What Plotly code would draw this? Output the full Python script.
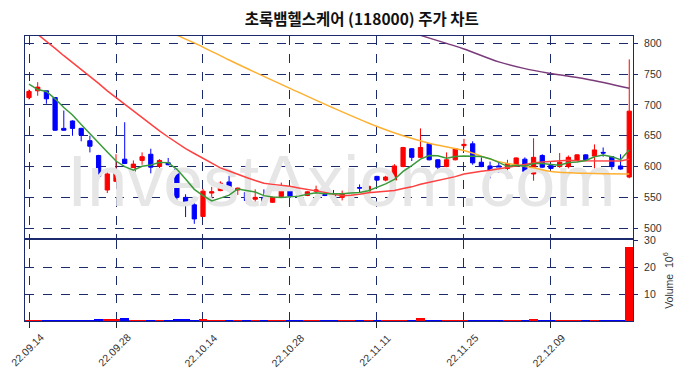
import plotly.graph_objects as go

dates = ["22.09.14","22.09.15","22.09.16","22.09.19","22.09.20","22.09.21","22.09.22","22.09.23","22.09.26","22.09.27",
         "22.09.28","22.09.29","22.09.30","22.10.04","22.10.05","22.10.06","22.10.07","22.10.11","22.10.12","22.10.13",
         "22.10.14","22.10.17","22.10.18","22.10.19","22.10.20","22.10.21","22.10.24","22.10.25","22.10.26","22.10.27",
         "22.10.28","22.10.31","22.11.01","22.11.02","22.11.03","22.11.04","22.11.07","22.11.08","22.11.09","22.11.10",
         "22.11.11","22.11.14","22.11.15","22.11.16","22.11.17","22.11.18","22.11.21","22.11.22","22.11.23","22.11.24",
         "22.11.25","22.11.28","22.11.29","22.11.30","22.12.01","22.12.02","22.12.05","22.12.06","22.12.07","22.12.08",
         "22.12.09","22.12.12","22.12.13","22.12.14","22.12.15","22.12.16","22.12.19","22.12.20","22.12.21","22.12.22"]

opens  = [712,723,723,712,662,674,662,642,618,562, 576,612,592,610,620,600,606,596,550,538,
          519,557,561,575,562,558,547,550,542,551, 562,555,553,560,558,555,550,556,566,560,
          584,578,578,600,629,615,637,611,600,611, 634,637,607,601,601,597,601,612,588,618,
          602,600,600,610,619,617,623,616,601,583]
highs  = [725,737,723,713,691,675,663,650,619,596, 620,672,610,623,629,612,614,596,555,548,
          564,567,576,585,566,559,563,563,551,574, 563,563,560,569,559,562,561,573,571,571,
          585,585,604,632,630,662,638,612,623,630, 645,641,615,608,607,611,615,615,646,620,
          603,622,618,620,620,636,631,617,620,774]
lows   = [709,715,702,658,658,650,641,623,580,557, 575,604,585,603,589,594,602,546,518,507,
          518,542,560,560,554,540,540,543,541,550, 549,550,552,556,552,541,545,555,558,558,
          577,576,577,599,609,614,610,590,599,610, 630,603,599,581,590,593,600,591,577,598,
          596,598,597,609,610,597,616,595,595,581]
closes = [722,729,710,659,659,662,651,633,584,588, 589,605,604,616,599,610,603,550,537,515,
          560,559,573,561,565,545,550,543,550,561, 552,554,559,562,553,550,556,565,565,568,
          578,583,601,631,615,631,611,599,611,629, 636,606,600,593,598,605,614,592,615,599,
          597,607,615,619,611,627,622,600,596,690]
volumes = [0.3,0.3,0.2,0.3,0.3,0.2,0.2,0.3,0.6,0.4, 0.5,1.0,0.3,0.3,0.3,0.3,0.3,0.5,0.5,0.3,
           0.6,0.3,0.3,0.2,0.3,0.3,0.3,0.2,0.3,0.3, 0.2,0.2,0.3,0.3,0.2,0.3,0.3,0.3,0.2,0.3,
           0.3,0.3,0.3,0.3,0.3,1.0,0.3,0.3,0.3,0.3, 0.3,0.2,0.2,0.2,0.2,0.3,0.3,0.3,0.6,0.3,
           0.3,0.3,0.3,0.3,0.2,0.3,0.2,0.3,0.2,27.5]

# moving averages: heads (history before the window)
ma5_head = [734, 725, 722, 710]
ma20_head = [826, 815, 803, 792, 780, 769, 758, 746, 735, 723, 712, 702, 691, 680, 669, 658, 648, 638, 629]
ma60_idx = [16, 18, 20, 23, 26, 30, 35, 40, 43, 46, 50, 54, 58, 60, 64, 69]
ma60_val = [820, 807, 794, 773, 753, 727, 695, 665, 650, 638, 626, 608, 598, 592, 589, 588]
ma120_idx = [43, 45, 48, 50, 54, 57, 60, 64, 69]
ma120_val = [822, 813, 800, 791, 770, 759, 751, 742, 727]

tick_idx = [0, 10, 20, 30, 40, 50, 60]

n = len(closes)
idx = list(range(n))

def rolling(vals, w, head):
    out = list(head)
    for i in range(len(head), len(vals)):
        out.append(sum(vals[i - w + 1:i + 1]) / w)
    return out

ma5 = rolling(closes, 5, ma5_head)
ma20 = rolling(closes, 20, ma20_head)

NAVY = "#1a2a6c"
UP = "#ff0000"
DOWN = "#0000ff"
TXT = "#333333"

fig = go.Figure()

# watermark (behind marks)
fig.add_trace(go.Scatter(x=[35.9], y=[566], mode="text", text=["InvestAxiom.com"],
                         textfont=dict(family="Liberation Sans", size=72, color="#e6e6e6"),
                         xaxis="x", yaxis="y", showlegend=False, hoverinfo="skip"))

fig.add_trace(go.Candlestick(x=idx, open=opens, high=highs, low=lows, close=closes,
                             increasing=dict(line=dict(color=UP, width=1), fillcolor=UP),
                             decreasing=dict(line=dict(color=DOWN, width=1), fillcolor=DOWN),
                             xaxis="x", yaxis="y", showlegend=False))

fig.add_trace(go.Scatter(x=ma120_idx, y=ma120_val, mode="lines", line=dict(color="#7a3a7a", width=1.5, shape="spline"),
                         xaxis="x", yaxis="y", showlegend=False))
fig.add_trace(go.Scatter(x=ma60_idx, y=ma60_val, mode="lines", line=dict(color="#ffb030", width=1.5, shape="spline"),
                         xaxis="x", yaxis="y", showlegend=False))
fig.add_trace(go.Scatter(x=idx, y=ma20, mode="lines", line=dict(color="#ff4040", width=1.5),
                         xaxis="x", yaxis="y", showlegend=False))
fig.add_trace(go.Scatter(x=idx, y=ma5, mode="lines", line=dict(color="#3a9a3a", width=1.5),
                         xaxis="x", yaxis="y", showlegend=False))

vcolors = [UP if c >= o else DOWN for o, c in zip(opens, closes)]
fig.add_trace(go.Bar(x=idx, y=volumes, marker=dict(color=vcolors, line=dict(width=0)), width=1.0,
                     xaxis="x2", yaxis="y2", showlegend=False))

axis_common = dict(showline=True, mirror=True, linecolor=NAVY, linewidth=1, automargin=False,
                   showgrid=True, gridcolor=NAVY, griddash="dash", gridwidth=1, zeroline=False)

# rotated date labels centred under their ticks
annotations = [dict(x=i, y=-0.1018, xref="x2", yref="paper", text=dates[i], showarrow=False,
                    textangle=-45, xanchor="center", yanchor="middle", xshift=-2,
                    font=dict(family="Liberation Sans", size=10.5, color=TXT))
               for i in tick_idx]

fig.update_layout(
    width=670, height=362,
    margin=dict(l=17, r=45, t=28, b=49, autoexpand=False),
    paper_bgcolor="white", plot_bgcolor="white",
    title=dict(text="초록뱀헬스케어 (118000) 주가 차트", x=0.528, xanchor="center", y=0.968, yanchor="middle",
               font=dict(family="Noto Sans CJK KR", size=15.5, color="#111111", weight="bold")),
    annotations=annotations,
    xaxis=dict(domain=[0, 1], range=[-0.46, 69.43], anchor="y", tickvals=tick_idx, showticklabels=False,
               ticks="", rangeslider=dict(visible=False), **axis_common),
    yaxis=dict(domain=[0.2912, 1], range=[484, 812], side="right", anchor="x",
               tickvals=[500, 550, 600, 650, 700, 750, 800], ticks="outside", ticklen=4, tickcolor=NAVY,
               ticklabelstandoff=4,
               tickfont=dict(family="Liberation Sans", size=10.5, color=TXT), **axis_common),
    xaxis2=dict(domain=[0, 1], range=[-0.46, 69.43], anchor="y2", matches="x", tickvals=tick_idx,
                showticklabels=False, ticks="outside", ticklen=6, tickcolor="#222222", **axis_common),
    yaxis2=dict(domain=[0, 0.2842], range=[0, 30.2], side="right", anchor="x2",
                tickvals=[10, 20, 30], ticks="outside", ticklen=4, tickcolor=NAVY,
                ticklabelstandoff=4,
                tickfont=dict(family="Liberation Sans", size=10.5, color=TXT),
                title=dict(text="Volume  10<sup>6</sup>", font=dict(family="Liberation Sans", size=10.5, color=TXT),
                           standoff=10), **axis_common),
    bargap=0,
)

fig.write_html("out.html")
